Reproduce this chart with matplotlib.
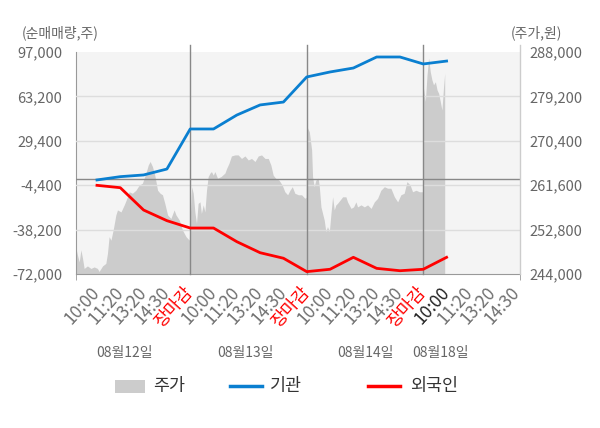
import matplotlib
matplotlib.use('Agg')
import matplotlib.pyplot as plt
from matplotlib.patches import Rectangle
from matplotlib.lines import Line2D
from matplotlib.transforms import blended_transform_factory

plt.rcParams['font.family'] = ['Noto Sans CJK KR', 'DejaVu Sans']

LEFT_TICKS = [-72000, -38200, -4400, 29400, 63200, 97000]
RIGHT_TICKS = [244000, 252800, 261600, 270400, 279200, 288000]
TIME_LABELS = ['10:00', '11:20', '13:20', '14:30', '장마감'] * 3 + ['10:00', '11:20', '13:20', '14:30']
DAY_LABELS = ['08월12일', '08월13일', '08월14일', '08월18일']
DAY_LABEL_POS = [2.2, 7.35, 12.5, 15.75]
DAY_BREAKS = [5, 10, 15]

# net buying (shares) at each time slot
line_pos = list(range(1, 17))
institution = [-400, 2100, 3400, 7900, 38400, 38400, 49000, 56700, 58900, 78000,
               81800, 84800, 93200, 93200, 87900, 90100]
foreign = [-4500, -6300, -23300, -31400, -37000, -37000, -47400, -55800, -60000, -70200,
           -68400, -59300, -67700, -69500, -68400, -59300]

# stock price (won), slot position on the time axis
price_pos = [0.1, 0.16, 0.24, 0.31, 0.38, 0.45, 0.59, 0.74, 0.88, 1.02, 1.09, 1.24, 1.38, 1.45,
             1.52, 1.6, 1.71, 1.81, 1.88, 2.03, 2.17, 2.31, 2.38, 2.52, 2.67, 2.81, 2.95, 3.1,
             3.2, 3.28, 3.38, 3.48, 3.6, 3.71, 3.81, 3.91, 4.03, 4.17, 4.31, 4.39, 4.53, 4.67,
             4.82, 4.96,
             5.06, 5.13, 5.2, 5.27, 5.34, 5.42, 5.48, 5.56, 5.63, 5.7, 5.77, 5.85, 5.91, 5.99,
             6.06, 6.17, 6.32, 6.49, 6.56, 6.66, 6.77, 6.92, 7.06, 7.2, 7.35, 7.49, 7.63, 7.78,
             7.92, 8.06, 8.21, 8.35, 8.46, 8.56, 8.66, 8.81, 8.95, 9.06, 9.18, 9.28, 9.38, 9.49,
             9.64, 9.78, 9.92, 9.97,
             10.01, 10.11, 10.21, 10.25, 10.32, 10.39, 10.49, 10.54, 10.61, 10.68, 10.75, 10.82,
             10.89, 10.97, 11.04, 11.11, 11.18, 11.25, 11.32, 11.44, 11.54, 11.68, 11.75, 11.9,
             12.01, 12.11, 12.18, 12.33, 12.47, 12.61, 12.76, 12.9, 13.04, 13.18, 13.33, 13.47,
             13.61, 13.76, 13.9, 14.04, 14.18, 14.3, 14.44, 14.54, 14.69, 14.83, 14.97,
             15.01, 15.09, 15.16, 15.23, 15.3, 15.37, 15.44, 15.52, 15.59, 15.66, 15.73, 15.8,
             15.87, 15.92]
price = [249100, 247800, 246400, 248800, 247100, 245100, 245600, 245100, 245400, 245100, 244500,
         245600, 246100, 248100, 251400, 250700, 253100, 255700, 256700, 256300, 257700, 259300,
         260300, 260000, 260600, 261600, 262000, 264000, 265600, 266300, 265300, 263600, 260600,
         260000, 259700, 258000, 255700, 255000, 256700, 255700, 254700, 252700, 251400, 250700,
         261300, 260000, 256300, 254000, 258000, 258300, 256000, 257700, 256300, 260600, 263300,
         264000, 264300, 263600, 264300, 263000, 263300, 264000, 264900, 265900, 267400, 267600,
         267600, 266900, 267400, 266600, 266900, 266300, 267400, 267600, 266900, 266900, 265600,
         263600, 263000, 262600, 261600, 260300, 259700, 260600, 261300, 260000, 259700, 259700,
         259000, 259200,
         273200, 272200, 268600, 263300, 261300, 262600, 263000, 261300, 257300, 256000, 254700,
         252400, 253400, 252400, 256000, 259300, 256700, 257700, 258000, 258700, 259300, 259300,
         258300, 257000, 257300, 258300, 257300, 257700, 257300, 257700, 257000, 258300, 259000,
         260600, 261300, 261000, 261000, 259300, 258300, 259700, 260000, 262300, 261600, 260300,
         260600, 260300, 260300,
         280800, 278200, 283400, 286800, 284100, 282500, 281500, 282100, 280500, 279800, 278200,
         276500, 281100, 283800]

X_MIN, X_MAX = 0.1, 19.15

fig = plt.figure(figsize=(6, 4.28), dpi=100)
ax = fig.add_axes([76 / 600, 1 - 274 / 428, 444 / 600, 222 / 428])
ax.set_facecolor('#f4f4f4')
ax.fill_between(price_pos, price, RIGHT_TICKS[0], color='#cccccc', lw=0)
ax.set_xlim(X_MIN, X_MAX)
ax.set_ylim(RIGHT_TICKS[0], RIGHT_TICKS[-1])

ax_l = ax.twinx()
ax.yaxis.tick_right()
ax_l.yaxis.tick_left()
ax_l.set_ylim(LEFT_TICKS[0], LEFT_TICKS[-1])

ax.set_yticks(RIGHT_TICKS)
ax.set_yticklabels(['{:,}'.format(v) for v in RIGHT_TICKS])
ax.tick_params(axis='y', length=0, pad=7, colors='#666666', labelsize=10.5)
ax_l.set_yticks(LEFT_TICKS)
ax_l.set_yticklabels(['{:,}'.format(v) for v in LEFT_TICKS])
ax_l.tick_params(axis='y', length=0, pad=10, colors='#666666', labelsize=10.5)

for s in ['top', 'right']:
    ax.spines[s].set_visible(False)
for s in ['left', 'bottom']:
    ax.spines[s].set_color('#999999')
for s in ax_l.spines.values():
    s.set_visible(False)

# x axis: time labels and day boundaries
ax.set_xticks(list(range(1, 20)))
ax.set_xticklabels(TIME_LABELS, rotation=48, ha='right', va='center', rotation_mode='anchor')
ax.tick_params(axis='x', which='major', length=0, pad=11, labelsize=12.5, labelcolor='#707070')
ax.set_xticks([X_MIN] + DAY_BREAKS + [X_MAX], minor=True)
ax.tick_params(axis='x', which='minor', length=4, color='#999999')
for i, lab in enumerate(ax.get_xticklabels()):
    if TIME_LABELS[i] == '장마감':
        lab.set_color('red')
    elif i == 15:
        lab.set_color('#222222')

# grid lines over the price area
for v in LEFT_TICKS[1:-1]:
    ax_l.axhline(v, color='#dddddd', lw=1, zorder=1)
ax_l.axhline(0, color='#888888', lw=1, zorder=1)
for x in DAY_BREAKS:
    ax_l.axvline(x, ymin=0, ymax=1.032, color='#888888', lw=1, zorder=1, clip_on=False)
ax_l.axvline(X_MAX, ymin=0, ymax=1.032, color='#cccccc', lw=1, zorder=1, clip_on=False)

ax_l.plot(line_pos, institution, color='#0a7fd0', lw=2, zorder=3)
ax_l.plot(line_pos, foreign, color='#ff0000', lw=2, zorder=3)

# titles of the two axes
fig.text(22 / 600, 1 - 33 / 428, '(순매매량,주)', ha='left', va='center', fontsize=10, color='#666666')
fig.text(562 / 600, 1 - 33 / 428, '(주가,원)', ha='right', va='center', fontsize=10, color='#666666')

trans = blended_transform_factory(ax.transData, fig.transFigure)
for pos, lab in zip(DAY_LABEL_POS, DAY_LABELS):
    ax.text(pos, 1 - 353 / 428, lab, transform=trans, ha='center', va='center',
            fontsize=10, color='#666666')

# legend
ly = 1 - 386 / 428
fig.patches.append(Rectangle((115 / 600, ly - 6.5 / 428), 30 / 600, 13 / 428,
                             transform=fig.transFigure, color='#cccccc', lw=0))
fig.text(153 / 600, ly, '주가', ha='left', va='center', fontsize=12.5, color='#333333')
fig.lines.append(Line2D([230 / 600, 262 / 600], [ly, ly], transform=fig.transFigure,
                        color='#0a7fd0', lw=2.5))
fig.text(270 / 600, ly, '기관', ha='left', va='center', fontsize=12.5, color='#333333')
fig.lines.append(Line2D([368 / 600, 400 / 600], [ly, ly], transform=fig.transFigure,
                        color='#ff0000', lw=2.5))
fig.text(410 / 600, ly, '외국인', ha='left', va='center', fontsize=12.5, color='#333333')

fig.savefig('out.png', dpi=100)
